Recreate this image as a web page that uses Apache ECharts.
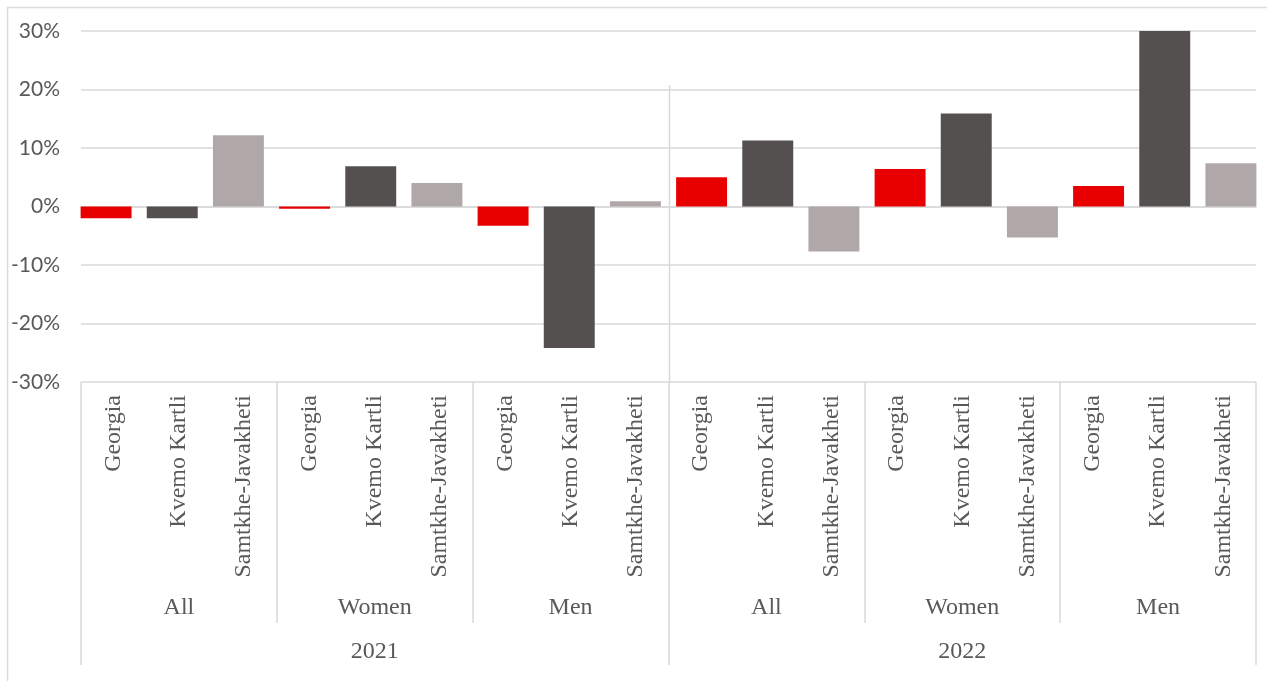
<!DOCTYPE html>
<html>
<head>
<meta charset="utf-8">
<script src="https://cdn.jsdelivr.net/npm/echarts@6/dist/echarts.min.js"></script>
<style>
  html, body { margin: 0; padding: 0; background: #fff; }
  #chart { width: 1267px; height: 681px; }
</style>
</head>
<body>
<div id="chart"></div>
<script>
// Year-on-year change (%) by region, split by year and population group
const years = ['2021', '2022'];
const groups = ['All', 'Women', 'Men'];
const regions = ['Georgia', 'Kvemo Kartli', 'Samtkhe-Javakheti'];

// one value per (year, group): 2021 All, Women, Men, 2022 All, Women, Men
const georgia          = [-2.0, -0.4, -3.3, 5.0, 6.4, 3.5];
const kvemoKartli      = [-2.0,  6.9, -24.2, 11.3, 15.9, 30.0];
const samtkheJavakheti = [12.2,  4.0,  0.9, -7.7, -5.3, 7.4];

const yTicks = { min: -30, max: 30, interval: 10 };
const regionColors = ['#E80000', '#545050', '#B0A8A8'];

const regionValues = [georgia, kvemoKartli, samtkheJavakheti];

// build flat category list (year|group|region) and matching values
const categories = [];
const values = [];
const groupCats = [];
years.forEach((yr, yi) => {
  groups.forEach((g, gi) => {
    const k = yi * groups.length + gi;
    groupCats.push(yr + '|' + g);
    regions.forEach((r, ri) => {
      categories.push(yr + '|' + g + '|' + r);
      values.push({ value: regionValues[ri][k], itemStyle: { color: regionColors[ri] } });
    });
  });
});

const gridColor = '#D9D9D9';
const textColor = '#595959';
const serif = '"Liberation Serif", "Times New Roman", serif';

const chart = echarts.init(document.getElementById('chart'));
chart.setOption({
  animation: false,
  grid: [
    // frame grid: gridlines and the label table
    { left: 81, right: 11, top: 31, bottom: 299, containLabel: false },
    // bar grid: bars spread slightly wider than the label table
    { left: 73, right: 3, top: 31, bottom: 299, containLabel: false }
  ],
  xAxis: [
    {
      // region names, rotated
      type: 'category', gridIndex: 0,
      data: categories,
      position: 'bottom',
      axisLine: { show: true, lineStyle: { color: gridColor, width: 1.5 } },
      axisTick: { show: false },
      axisLabel: {
        interval: 0, rotate: 90, margin: 13,
        color: textColor, fontFamily: serif, fontSize: 24,
        formatter: (v) => v.split('|')[2]
      },
      splitLine: { show: false }
    },
    {
      // population groups, with separators between groups
      type: 'category', gridIndex: 0,
      data: groupCats,
      position: 'bottom',
      axisLine: { show: false },
      axisTick: {
        show: true, length: 241, interval: 0,
        lineStyle: { color: gridColor, width: 1.5 }
      },
      axisLabel: {
        interval: 0, margin: 214,
        color: textColor, fontFamily: serif, fontSize: 24,
        formatter: (v) => v.split('|')[1]
      },
      splitLine: { show: false }
    },
    {
      // years, with taller separators
      type: 'category', gridIndex: 0,
      data: years,
      position: 'bottom',
      axisLine: { show: false },
      axisTick: {
        show: true, length: 283, interval: 0,
        lineStyle: { color: gridColor, width: 1.5 }
      },
      axisLabel: {
        interval: 0, margin: 258,
        color: textColor, fontFamily: serif, fontSize: 24
      },
      splitLine: { show: false }
    },
    {
      // hidden category axis carrying the bars
      type: 'category', gridIndex: 1,
      data: categories,
      show: false
    }
  ],
  yAxis: [
    {
      type: 'value', gridIndex: 0,
      min: yTicks.min, max: yTicks.max, interval: yTicks.interval,
      axisLine: { show: false },
      axisTick: { show: false },
      axisLabel: {
        formatter: '{value}%', margin: 21,
        color: textColor, fontFamily: 'Lato, "Open Sans", sans-serif', fontSize: 21
      },
      splitLine: { show: true, lineStyle: { color: gridColor, width: 1.5 } }
    },
    {
      type: 'value', gridIndex: 1,
      min: yTicks.min, max: yTicks.max, interval: yTicks.interval,
      show: false,
      splitLine: { show: false }
    }
  ],
  series: [{
    type: 'bar',
    xAxisIndex: 3,
    yAxisIndex: 1,
    data: values,
    barCategoryGap: '23%'
  }]
});

// outer frame and the year divider that rises into the plot
const xA = chart.convertToPixel({ xAxisIndex: 0 }, categories[8]);
const xB = chart.convertToPixel({ xAxisIndex: 0 }, categories[9]);
const divX = Math.round((xA + xB) / 2) + 0.5;
const yBottom = chart.convertToPixel({ yAxisIndex: 0 }, yTicks.min);
chart.setOption({
  graphic: [
    {
      type: 'rect', silent: true,
      shape: { x: 7.5, y: 7.5, width: 1300, height: 700 },
      style: { fill: null, stroke: '#DCDCDC', lineWidth: 1.5 }
    },
    {
      type: 'line', silent: true,
      shape: { x1: divX, y1: 85, x2: divX, y2: yBottom },
      style: { stroke: gridColor, lineWidth: 1.5 }
    }
  ]
});
</script>
</body>
</html>
